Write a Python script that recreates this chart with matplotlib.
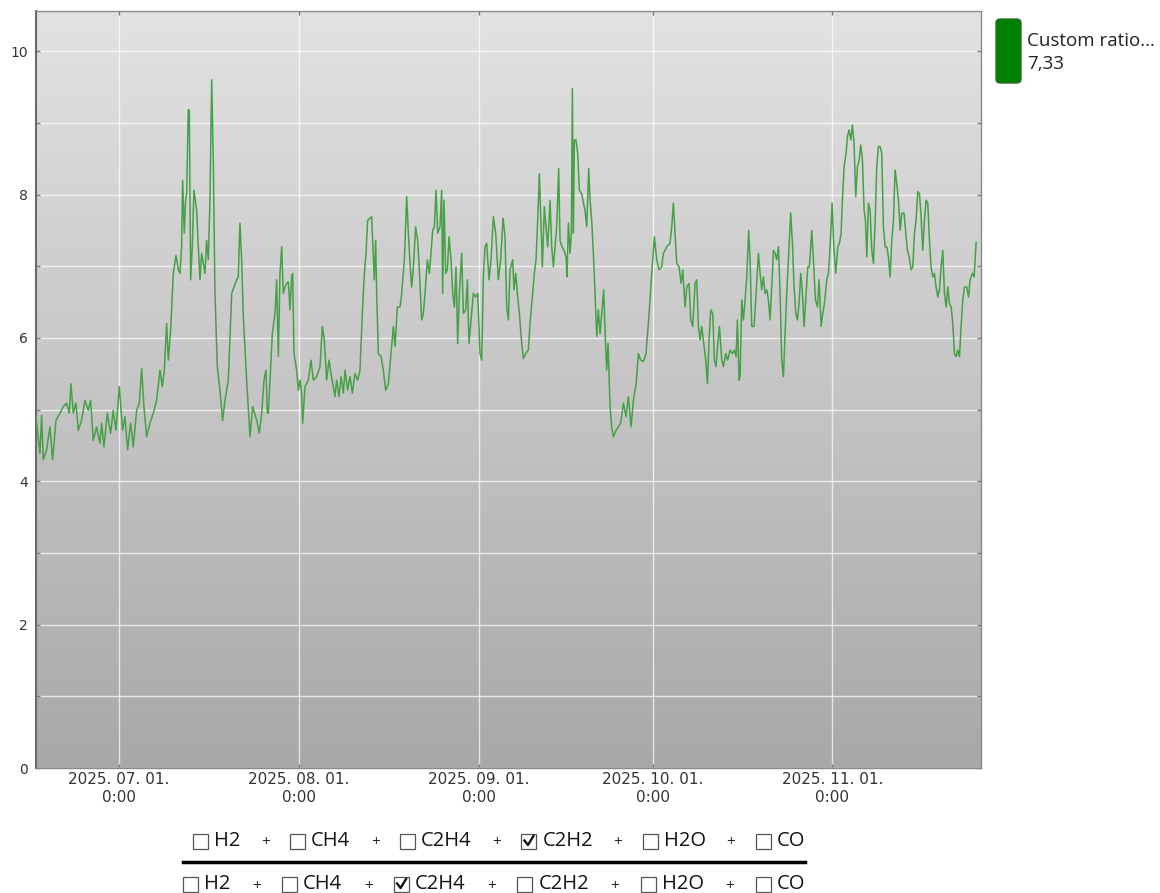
import numpy as np
import pandas as pd
import matplotlib
matplotlib.use("Agg")
import matplotlib.pyplot as plt
import matplotlib.dates as mdates
from matplotlib.ticker import MultipleLocator, FuncFormatter
from matplotlib.patches import FancyBboxPatch, Rectangle

# day offsets from 2025-07-01 00:00 and ratio values
days = [
    -14.31, -13.62, -13.33, -13.05, -12.47, -11.90, -11.44, -10.86, -10.17, -9.60,
    -9.02, -8.56, -8.28, -7.87, -7.41, -7.01, -6.44, -5.86, -5.29, -4.89,
    -4.43, -3.85, -3.28, -2.99, -2.59, -2.01, -1.44, -0.98, -0.52, 0.06,
    0.63, 1.03, 1.49, 2.01, 2.47, 3.05, 3.51, 3.91, 4.31, 4.77,
    5.34, 5.92, 6.49, 7.07, 7.47, 7.82, 8.22, 8.51, 8.91, 9.37,
    9.83, 10.23, 10.52, 10.80, 10.98, 11.26, 11.49, 11.67, 11.95, 12.13,
    12.36, 12.64, 12.93, 13.39, 13.68, 13.97, 14.25, 14.54, 14.83, 15.11,
    15.40, 15.69, 15.98, 16.26, 16.55, 16.95, 17.41, 17.87, 18.28, 18.85,
    19.43, 19.83, 20.29, 20.57, 20.86, 21.15, 21.44, 22.01, 22.59, 23.05,
    23.74, 24.20, 24.60, 25.00, 25.34, 25.57, 25.75, 26.03, 26.44, 26.90,
    27.18, 27.47, 27.76, 28.05, 28.33, 28.62, 28.91, 29.20, 29.48, 29.77,
    29.94, 30.17, 30.63, 30.92, 31.21, 31.49, 31.67, 32.07, 32.64, 33.10,
    33.51, 34.08, 34.66, 35.06, 35.40, 35.80, 36.21, 36.55, 36.95, 37.24,
    37.53, 37.93, 38.28, 38.68, 38.97, 39.43, 39.83, 40.23, 40.69, 41.15,
    41.55, 41.95, 42.30, 42.59, 42.87, 43.28, 43.56, 43.85, 44.02, 44.25,
    44.43, 44.71, 45.17, 45.57, 45.98, 46.44, 46.90, 47.30, 47.59, 47.99,
    48.45, 48.74, 49.20, 49.60, 49.89, 50.17, 50.46, 50.75, 51.15, 51.49,
    51.78, 52.18, 52.47, 52.76, 53.16, 53.51, 53.79, 54.08, 54.37, 54.66,
    54.94, 55.34, 55.63, 55.80, 56.03, 56.32, 56.61, 56.90, 57.24, 57.53,
    57.82, 58.10, 58.39, 58.68, 59.08, 59.37, 59.77, 60.06, 60.34, 60.69,
    61.09, 61.49, 61.84, 62.24, 62.53, 62.82, 63.10, 63.39, 63.79, 64.14,
    64.54, 64.94, 65.40, 65.80, 66.21, 66.55, 66.84, 67.13, 67.41, 67.87,
    68.10, 68.39, 68.68, 69.02, 69.43, 69.71, 70.11, 70.57, 70.86, 71.26,
    71.61, 71.90, 72.18, 72.47, 72.76, 72.99, 73.33, 73.62, 73.91, 74.31,
    74.60, 74.89, 75.17, 75.46, 75.80, 76.03, 76.38, 76.72, 77.07, 77.24,
    77.47, 77.76, 77.99, 78.16, 78.33, 78.51, 78.79, 79.08, 79.37, 79.77,
    80.06, 80.34, 80.63, 80.98, 81.21, 81.49, 81.78, 82.07, 82.36, 82.64,
    82.93, 83.22, 83.56, 83.85, 84.08, 84.31, 84.66, 84.94, 85.23, 85.69,
    86.09, 86.49, 86.95, 87.41, 87.82, 88.28, 88.68, 89.14, 89.54, 89.94,
    90.40, 90.86, 91.38, 91.84, 92.30, 92.70, 93.10, 93.56, 93.85, 94.14,
    94.43, 95.00, 95.29, 95.57, 95.86, 96.15, 96.55, 96.90, 97.18, 97.59,
    97.87, 98.28, 98.56, 98.91, 99.31, 99.60, 99.89, 100.17, 100.46, 100.86,
    101.15, 101.44, 101.72, 102.01, 102.36, 102.64, 102.93, 103.22, 103.51, 103.91,
    104.20, 104.60, 104.94, 105.34, 105.75, 106.09, 106.38, 106.61, 106.90, 107.07,
    107.36, 107.64, 107.93, 108.22, 108.56, 108.79, 109.08, 109.48, 109.83, 110.23,
    110.52, 110.80, 111.09, 111.38, 111.67, 111.95, 112.24, 112.53, 112.82, 113.10,
    113.39, 113.68, 113.97, 114.25, 114.54, 114.83, 115.11, 115.40, 115.80, 116.09,
    116.38, 116.67, 116.95, 117.24, 117.53, 117.82, 118.10, 118.39, 118.74, 119.02,
    119.43, 119.71, 120.06, 120.40, 120.69, 121.03, 121.32, 121.61, 122.01, 122.30,
    122.59, 122.93, 123.22, 123.56, 123.91, 124.20, 124.48, 124.71, 125.00, 125.34,
    125.57, 125.86, 126.15, 126.44, 126.72, 127.01, 127.30, 127.59, 127.87, 128.16,
    128.45, 128.68, 128.91, 129.20, 129.48, 129.77, 130.06, 130.34, 130.63, 130.92,
    131.21, 131.49, 131.78, 132.07, 132.36, 132.64, 132.93, 133.22, 133.51, 133.79,
    134.08, 134.37, 134.66, 134.94, 135.34, 135.63, 135.92, 136.21, 136.55, 136.84,
    137.13, 137.41, 137.70, 137.99, 138.28, 138.56, 138.85, 139.14, 139.43, 139.71,
    140.00, 140.29, 140.57, 140.86, 141.15, 141.44, 141.72, 142.01, 142.30, 142.59,
    142.87, 143.16, 143.45, 143.74, 144.02, 144.31, 144.60, 144.89, 145.17, 145.46,
    145.75, 146.15, 146.44, 146.72, 147.13, 147.41, 147.76,
]
ratio = [
    4.90, 4.39, 4.92, 4.30, 4.44, 4.76, 4.30, 4.85, 4.95, 5.04,
    5.09, 4.95, 5.36, 4.95, 5.09, 4.71, 4.85, 5.13, 4.99, 5.13,
    4.57, 4.76, 4.53, 4.81, 4.48, 4.95, 4.67, 4.99, 4.71, 5.32,
    4.71, 4.90, 4.44, 4.81, 4.48, 4.99, 5.09, 5.57, 5.04, 4.62,
    4.81, 4.95, 5.13, 5.55, 5.32, 5.55, 6.20, 5.69, 6.11, 6.90,
    7.15, 6.95, 6.90, 7.27, 8.20, 7.46, 7.92, 8.01, 9.18, 9.18,
    6.81, 7.27, 8.06, 7.78, 7.27, 6.81, 7.18, 7.04, 6.90, 7.36,
    7.09, 7.92, 9.60, 8.48, 6.62, 5.60, 5.27, 4.85, 5.13, 5.41,
    6.62, 6.71, 6.81, 6.85, 7.60, 7.09, 6.29, 5.41, 4.62, 5.04,
    4.85, 4.67, 4.95, 5.41, 5.55, 4.95, 4.95, 5.41, 6.06, 6.34,
    6.81, 5.74, 6.90, 7.27, 6.62, 6.71, 6.76, 6.78, 6.39, 6.85,
    6.90, 5.78, 5.55, 5.27, 5.41, 5.23, 4.81, 5.32, 5.41, 5.69,
    5.41, 5.46, 5.60, 6.16, 5.97, 5.41, 5.69, 5.50, 5.32, 5.18,
    5.41, 5.18, 5.46, 5.23, 5.55, 5.27, 5.46, 5.23, 5.50, 5.41,
    5.55, 6.34, 6.90, 7.18, 7.64, 7.67, 7.69, 7.13, 6.81, 7.36,
    6.62, 5.78, 5.74, 5.55, 5.27, 5.36, 5.78, 6.16, 5.88, 6.43,
    6.43, 6.62, 7.09, 7.97, 7.46, 7.04, 6.71, 6.99, 7.55, 7.36,
    6.95, 6.25, 6.34, 6.62, 7.09, 6.90, 7.18, 7.50, 7.55, 8.06,
    7.46, 7.55, 8.06, 6.62, 7.92, 6.90, 6.95, 7.41, 7.09, 6.62,
    6.43, 6.99, 5.92, 6.62, 7.18, 6.34, 6.39, 6.81, 5.92, 6.25,
    6.62, 6.57, 6.62, 5.78, 5.69, 6.85, 7.27, 7.32, 6.81, 7.09,
    7.69, 7.46, 6.81, 7.09, 7.67, 7.41, 6.43, 6.25, 6.95, 7.09,
    6.67, 6.90, 6.62, 6.34, 5.92, 5.71, 5.78, 5.83, 6.20, 6.57,
    6.90, 7.09, 7.64, 8.29, 7.55, 6.99, 7.83, 7.55, 7.27, 7.92,
    7.27, 6.99, 7.27, 7.55, 8.36, 7.36, 7.27, 7.22, 7.13, 6.85,
    7.60, 7.18, 7.46, 9.48, 7.46, 8.76, 8.76, 8.57, 8.06, 8.01,
    7.88, 7.78, 7.55, 8.36, 7.92, 7.64, 7.18, 6.62, 6.02, 6.39,
    6.06, 6.34, 6.67, 5.97, 5.55, 5.92, 5.04, 4.76, 4.62, 4.71,
    4.76, 4.81, 5.09, 4.90, 5.18, 4.76, 5.13, 5.36, 5.78, 5.69,
    5.67, 5.78, 6.34, 6.90, 7.41, 7.09, 6.95, 6.99, 7.18, 7.22,
    7.27, 7.32, 7.55, 7.88, 7.46, 7.04, 6.99, 6.76, 6.95, 6.43,
    6.71, 6.76, 6.25, 6.16, 6.76, 6.81, 6.16, 5.97, 6.16, 5.88,
    5.69, 5.36, 5.97, 6.39, 6.34, 5.69, 5.60, 5.92, 6.16, 5.69,
    5.60, 5.78, 5.69, 5.83, 5.78, 5.83, 5.74, 6.25, 5.41, 5.46,
    6.53, 6.25, 6.53, 6.85, 7.50, 7.09, 6.16, 6.16, 6.62, 7.18,
    6.90, 6.67, 6.85, 6.62, 6.67, 6.53, 6.25, 6.71, 7.22, 7.18,
    7.09, 7.27, 6.62, 5.69, 5.46, 6.06, 6.62, 7.09, 7.74, 7.32,
    6.71, 6.34, 6.25, 6.48, 6.90, 6.62, 6.16, 6.53, 6.99, 6.99,
    7.50, 7.09, 6.53, 6.43, 6.81, 6.16, 6.34, 6.48, 6.81, 6.90,
    7.27, 7.88, 7.27, 6.90, 7.27, 7.32, 7.46, 7.92, 8.39, 8.57,
    8.81, 8.90, 8.76, 8.97, 8.71, 7.97, 8.39, 8.48, 8.69, 8.48,
    7.78, 7.64, 7.13, 7.88, 7.78, 7.22, 7.04, 7.60, 8.39, 8.67,
    8.67, 8.57, 7.55, 7.27, 7.27, 7.13, 6.85, 7.36, 7.64, 8.34,
    8.15, 7.92, 7.50, 7.74, 7.74, 7.46, 7.22, 7.13, 6.95, 6.99,
    7.46, 7.64, 8.04, 8.01, 7.69, 7.22, 7.64, 7.92, 7.88, 7.36,
    6.99, 6.85, 6.90, 6.71, 6.57, 6.67, 6.99, 7.22, 6.62, 6.43,
    6.71, 6.48, 6.43, 6.20, 5.78, 5.74, 5.83, 5.74, 6.16, 6.53,
    6.71, 6.71, 6.57, 6.81, 6.90, 6.85, 7.33,
]
month_ticks = ["2025-07-01", "2025-08-01", "2025-09-01", "2025-10-01", "2025-11-01"]
series_name = "Custom ratio..."
last_value = "7,33"
gases = ["H2", "CH4", "C2H4", "C2H2", "H2O", "CO"]
num_checked = [False, False, False, True, False, False]
den_checked = [False, False, True, False, False, False]

W, H = 1160, 893
FONT = ["Open Sans", "DejaVu Sans"]

t0 = pd.Timestamp("2025-07-01")
times = t0 + pd.to_timedelta(days, unit="D")

fig = plt.figure(figsize=(W / 100, H / 100), dpi=100)
ax = fig.add_axes([36 / W, 1 - 768 / H, (981 - 36) / W, (768 - 11) / H])

# grey gradient background
grad = np.linspace(0, 1, 256).reshape(-1, 1)
bg = matplotlib.colors.LinearSegmentedColormap.from_list("bg", ["#a8a8a8", "#e2e2e2"])
ax.imshow(grad, cmap=bg, origin="lower", aspect="auto", extent=[0, 1, 0, 1],
          transform=ax.transAxes, zorder=0)

ax.plot(times, ratio, color="#46a046", lw=1.1, zorder=3)

ax.set_xlim(t0 + pd.Timedelta(days=-14.3), t0 + pd.Timedelta(days=148.6))
ax.set_ylim(0, 10.56)

ax.yaxis.set_major_locator(MultipleLocator(2))
ax.yaxis.set_minor_locator(MultipleLocator(1))
ax.set_xticks([pd.Timestamp(m) for m in month_ticks])
ax.xaxis.set_major_formatter(FuncFormatter(
    lambda v, p: "{0:%Y. %m. %d.}\n{1}:{0:%M}".format(mdates.num2date(v), mdates.num2date(v).hour)))

ax.grid(True, which="both", axis="y", color="white", lw=1.0, alpha=0.7, zorder=1)
ax.grid(True, which="major", axis="x", color="white", lw=1.0, alpha=0.7, zorder=1)

ax.tick_params(which="both", direction="in", length=3, width=1, color="#777777",
               top=True, right=True, labelcolor="#333333")
ax.tick_params(axis="y", pad=6, labelsize=10)
ax.tick_params(axis="x", pad=3, labelsize=11)
for s in ax.spines.values():
    s.set_color("#8a8a8a")
    s.set_linewidth(1.0)
ax.spines["left"].set_color("#6a6a6a")
ax.spines["left"].set_linewidth(1.5)

# legend on the right
fig.patches.append(FancyBboxPatch((996 / W, 1 - 83 / H), 25 / W, 64 / H,
                                  boxstyle="round,pad=0,rounding_size=0.004",
                                  transform=fig.transFigure, facecolor="#008000",
                                  edgecolor="#2f6f2f", lw=1.0))
fig.text(1027 / W, 1 - 41 / H, series_name, fontsize=13.5, color="#222222",
         va="center", ha="left", family=FONT)
fig.text(1027 / W, 1 - 64 / H, last_value, fontsize=13.5, color="#222222",
         va="center", ha="left", family=FONT)

# ratio formula under the chart: checkbox rows and fraction bar
renderer = fig.canvas.get_renderer()


def checkbox_row(y_px, x_start, x_end, checked):
    yc = 1 - y_px / H
    bs = 15
    labels = [fig.text(0, yc, n, fontsize=14.5, color="#111111", ha="left",
                       va="center", family=FONT) for n in gases]
    widths = [t.get_window_extent(renderer).width for t in labels]
    item_w = [bs + 6 + w for w in widths]
    gap = (x_end - x_start - sum(item_w)) / (len(gases) - 1)
    x0 = x_start
    for i, c in enumerate(checked):
        fig.patches.append(Rectangle((x0 / W, yc - bs / 2 / H), bs / W, bs / H,
                                     transform=fig.transFigure, facecolor="white",
                                     edgecolor="#555555", lw=0.9))
        if c:
            fig.add_artist(plt.Line2D([(x0 + 3) / W, (x0 + 6.5) / W, (x0 + 12) / W],
                                      [yc + 0.5 / H, yc - 4 / H, yc + 5 / H],
                                      transform=fig.transFigure, color="#111111", lw=1.7))
        labels[i].set_x((x0 + bs + 6) / W)
        x0 += item_w[i]
        if i < len(gases) - 1:
            fig.text((x0 + gap / 2) / W, yc - 2 / H, "+", fontsize=11, color="#222222",
                     ha="center", va="center", family=FONT)
            x0 += gap


checkbox_row(841, 193, 805, num_checked)
checkbox_row(884, 183, 805, den_checked)
fig.add_artist(plt.Line2D([183 / W, 805 / W], [1 - 862 / H, 1 - 862 / H],
                          transform=fig.transFigure, color="black", lw=2.5))

fig.savefig("out.png", dpi=100)
